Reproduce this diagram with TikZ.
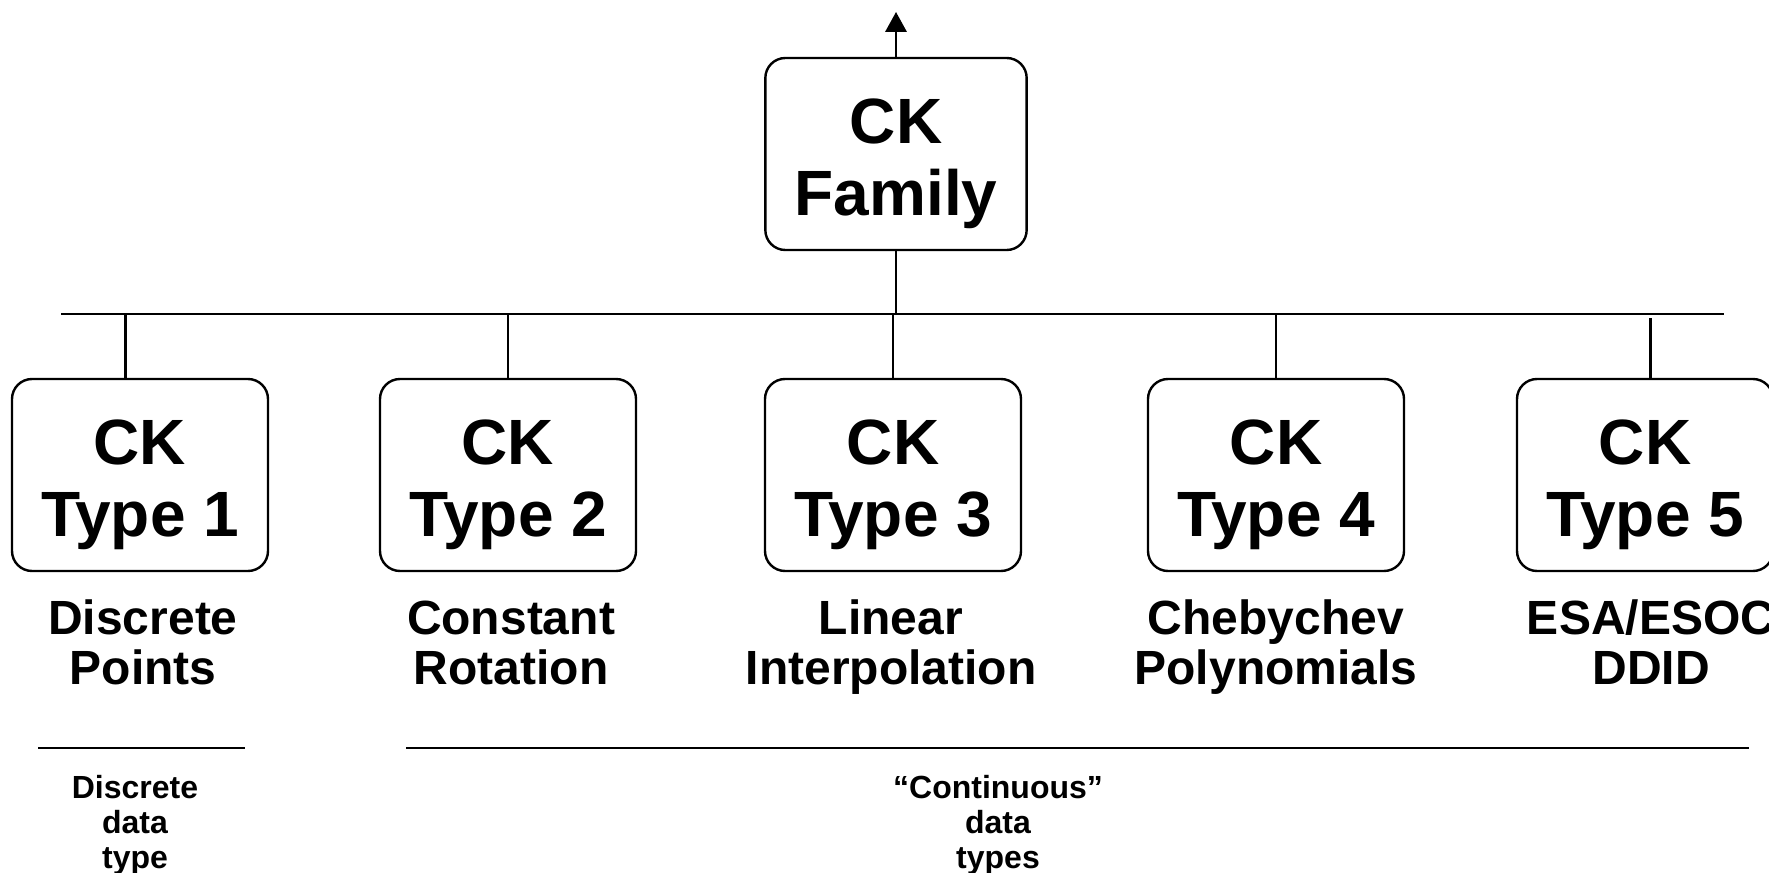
\documentclass[tikz,border=0pt]{standalone}
\usepackage{fontspec}
\setmainfont{Liberation Sans}
\usepackage{tikz}
\usetikzlibrary{positioning, arrows.meta}

% raise the first line so the two lines sit centred in the box
\newcommand{\cktop}{\rule{0pt}{47.5pt}}

\begin{document}
\begin{tikzpicture}[
    x=0.75pt, y=-0.75pt,
    line width=1.8pt,
    ckbox/.style={rectangle, rounded corners=15pt, draw, line width=1.8pt, minimum width=192pt, minimum height=144pt, align=center, inner sep=0pt, font=\fontsize{48}{54}\selectfont\bfseries},
    desc/.style={align=center, inner sep=0pt, font=\fontsize{36}{37.5}\selectfont\bfseries},
    kind/.style={align=center, inner sep=0pt, font=\fontsize{24}{26.25}\selectfont\bfseries}
]
\useasboundingbox (0,0) rectangle (1769,873);

% Root node
\node[ckbox, minimum width=196pt] (family) at (896,154) {\cktop CK\\Family};
\coordinate (up) at (896,12);
\coordinate (bus) at (0,314);
\coordinate (busl) at (61,314);
\coordinate (busr) at (1724,314);

% Kernel types
\node[ckbox] (t1) at (140,475) {\cktop CK\\Type 1};
\node[ckbox] (t2) at (508,475) {\cktop CK\\Type 2};
\node[ckbox] (t3) at (893,475) {\cktop CK\\Type 3};
\node[ckbox] (t4) at (1276,475) {\cktop CK\\Type 4};
\node[ckbox] (t5) at (1645,475) {\cktop CK\\Type 5};

% Descriptions
\node[desc] (d1) at (143,649) {\strut Discrete\\\strut Points};
\node[desc] (d2) at (511,649) {\strut Constant\\\strut Rotation};
\node[desc] (d3) at (891,649) {\strut Linear\\\strut Interpolation};
\node[desc] (d4) at (1276,649) {\strut Chebychev\\\strut Polynomials};
\node[desc] (d5) at (1651,649) {\strut ESA/ESOC\\\strut DDID};

% Data type groups
\coordinate (g1l) at (38,748);
\coordinate (g1r) at (245,748);
\coordinate (g2l) at (406,748);
\coordinate (g2r) at (1749,748);
\node[kind] (k1) at (135,826) {\strut Discrete\\data\\\strut type};
\node[kind] (k2) at (998,826) {\strut “Continuous”\\data\\\strut types};

% Edges
\draw[-{Triangle[width=16pt,length=15pt]}] (family.north) -- (up);
\draw (family.south) -- (family.south |- bus);
\draw (busl) -- (busr);
\draw ([xshift=-11pt]t1.north) -- ([xshift=-11pt]t1.north |- bus);
\draw (t2.north) -- (t2.north |- bus);
\draw (t3.north) -- (t3.north |- bus);
\draw (t4.north) -- (t4.north |- bus);
\draw ([xshift=4pt]t5.north) -- ([xshift=4pt,yshift=-3pt]t5.north |- bus);
\draw (g1l) -- (g1r);
\draw (g2l) -- (g2r);

\end{tikzpicture}
\end{document}
